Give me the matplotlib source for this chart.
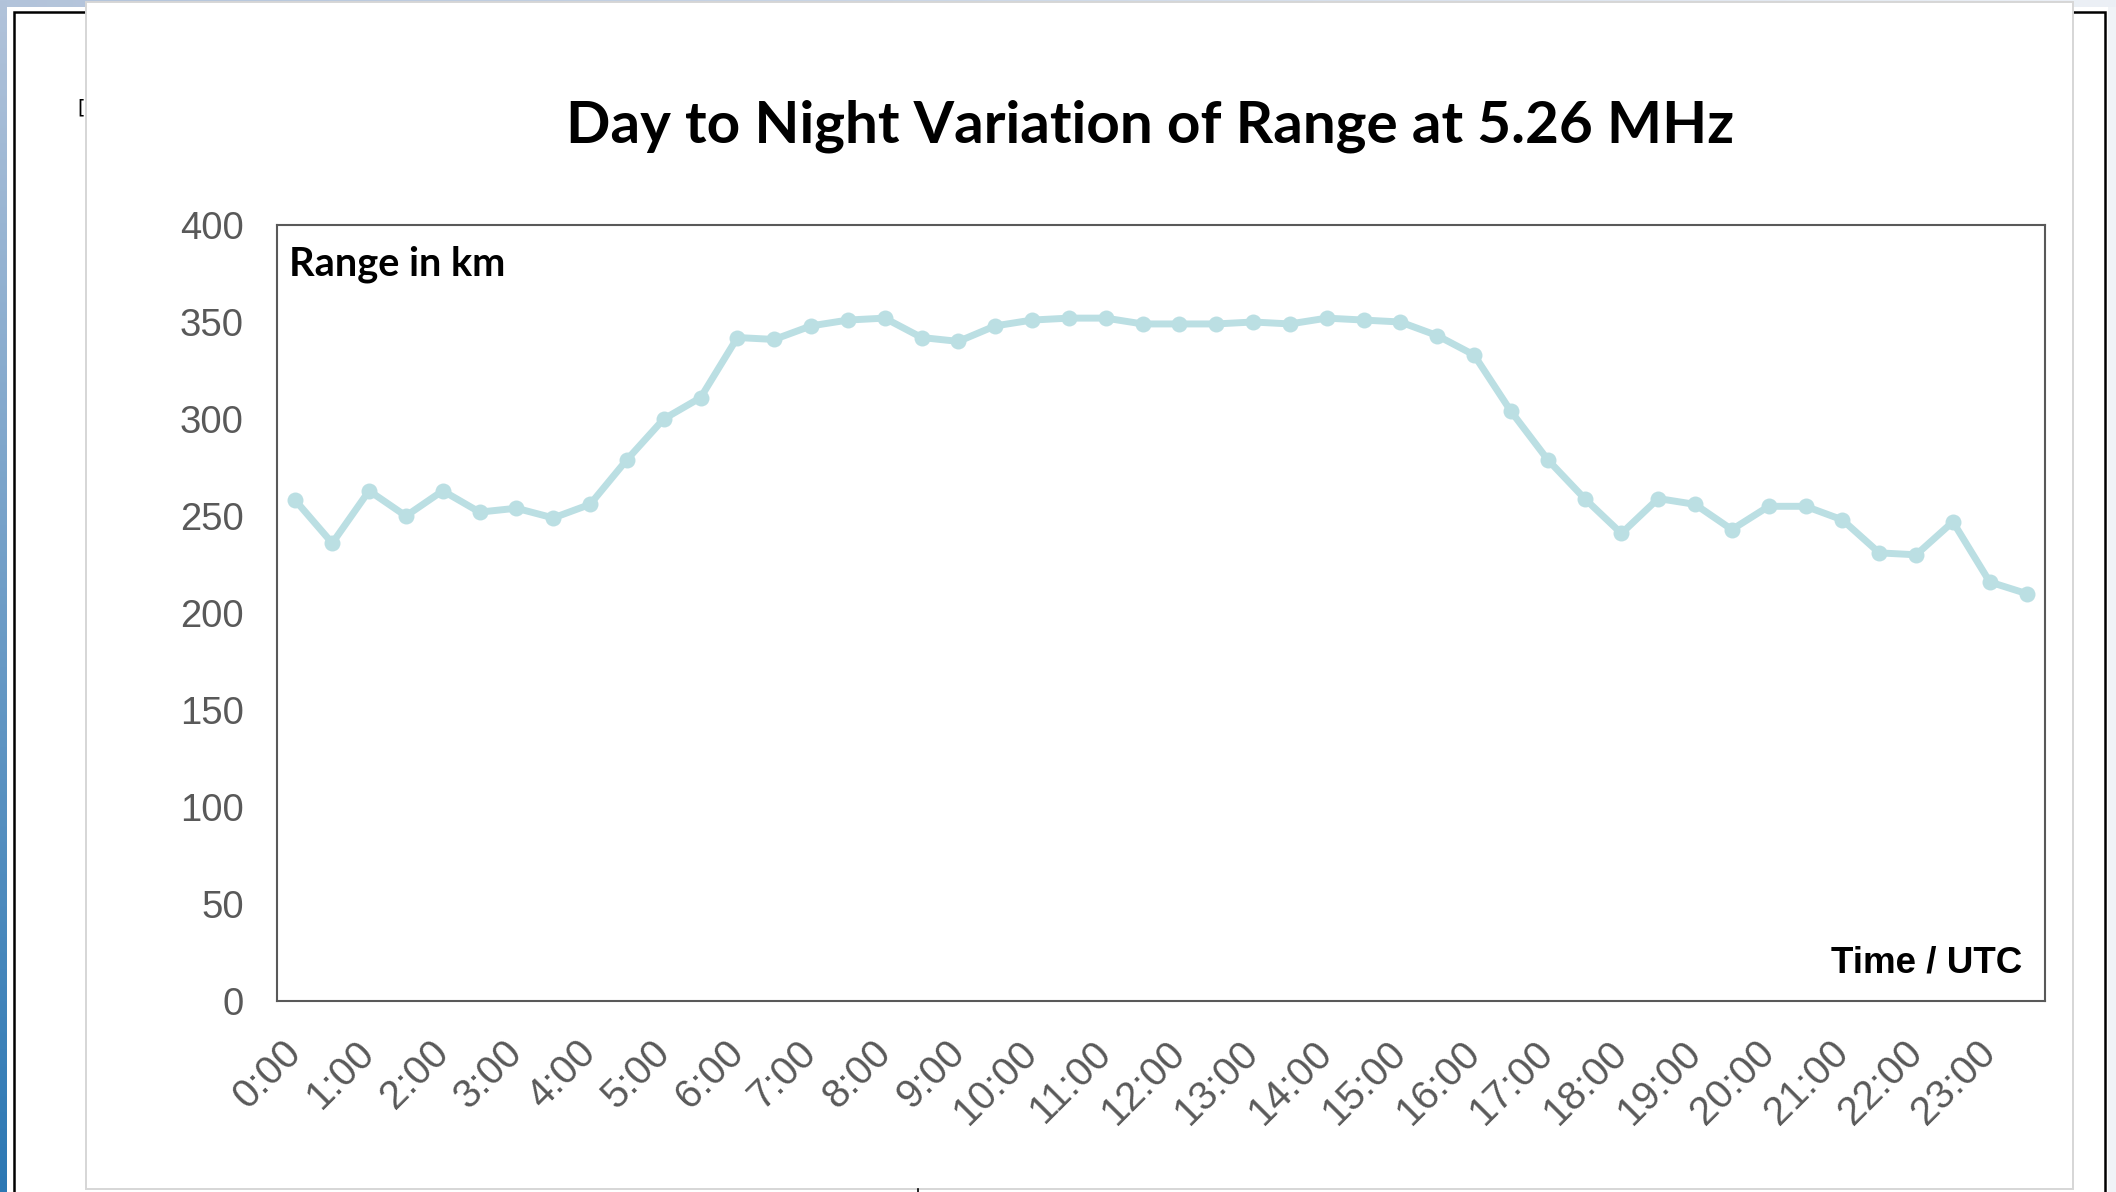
import numpy as np
import matplotlib.pyplot as plt
from matplotlib.patches import Rectangle
from matplotlib.lines import Line2D

# half-hourly range readings, 0:00 to 23:30 UTC
range_km = [258, 236, 263, 250, 263, 252, 254, 249, 256, 279,
            300, 311, 342, 341, 348, 351, 352, 342, 340, 348,
            351, 352, 352, 349, 349, 349, 350, 349, 352, 351,
            350, 343, 333, 304, 279, 259, 241, 259, 256, 243,
            255, 255, 248, 231, 230, 247, 216, 210]
hour_labels = ["0:00", "1:00", "2:00", "3:00", "4:00", "5:00", "6:00", "7:00",
               "8:00", "9:00", "10:00", "11:00", "12:00", "13:00", "14:00",
               "15:00", "16:00", "17:00", "18:00", "19:00", "20:00", "21:00",
               "22:00", "23:00"]
y_ticks = [0, 50, 100, 150, 200, 250, 300, 350, 400]

W, H = 2116, 1192
fig = plt.figure(figsize=(W / 100, H / 100), dpi=100)


def box(x0, y0, x1, y1, **kw):
    # rectangle given in pixel coords measured from the top-left corner
    r = Rectangle((x0 / W, 1 - y1 / H), (x1 - x0) / W, (y1 - y0) / H,
                  transform=fig.transFigure, **kw)
    fig.add_artist(r)
    return r


# window backdrop behind the page
bg = np.empty((H, W, 3))
bg[:] = np.array([240, 243, 247]) / 255
t = np.linspace(0, 1, W)[None, :, None]
bg[:7] = (np.array([178, 195, 218]) * (1 - t) + np.array([236, 240, 246]) * t) / 255
s = np.linspace(0, 1, H)[:, None, None]
bg[:, :7] = (np.array([178, 195, 218]) * (1 - s) + np.array([44, 120, 180]) * s) / 255
fig.figimage(bg, xo=0, yo=0, origin='upper', zorder=-10)

box(7, 7, 2108, H + 5, facecolor='white', edgecolor='none', zorder=-9)
box(14, 12, 2105, H + 5, facecolor='none', edgecolor='black', lw=1.8, zorder=-8)
fig.text(77 / W, 1 - 108 / H, "[", fontsize=14, color='black', va='center',
         ha='left', zorder=-7)
box(86, 2, 2073, 1189, facecolor='white', edgecolor='#d6d6d6', lw=1.4, zorder=-6)
fig.add_artist(Line2D([918 / W, 918 / W], [0, 3 / H], transform=fig.transFigure,
                      color='black', lw=1.2, zorder=-5))

ax = fig.add_axes([277 / W, 1 - 1001 / H, (2045 - 277) / W, (1001 - 225) / H])
ax.set_facecolor('white')

x = np.arange(len(range_km))
ax.plot(x, range_km, color='#bbdfe3', lw=5, marker='o', markersize=11.5,
        markeredgewidth=0, solid_capstyle='round', solid_joinstyle='round')

ax.set_xlim(-0.5, len(range_km) - 0.5)
ax.set_ylim(0, 400)
ax.set_yticks(y_ticks)
ax.set_xticks(x[::2])
ax.set_xticklabels(hour_labels, rotation=45, ha='right', va='center',
                   rotation_mode='anchor', family='Liberation Sans')
for lab in ax.get_yticklabels():
    lab.set_family('Liberation Sans')
ax.tick_params(axis='both', length=0, colors='#595959')
ax.tick_params(axis='y', pad=24, labelsize=27.5)
ax.tick_params(axis='x', pad=33, labelsize=29)
for sp in ax.spines.values():
    sp.set_color('#595959')
    sp.set_linewidth(1.5)

ax.text(0.007, 0.95, "Range in km", transform=ax.transAxes, family='Lato',
        weight='bold', fontsize=28.6, ha='left', va='center')
ax.text(0.987, 0.049, "Time / UTC", transform=ax.transAxes,
        family='Liberation Sans', weight='bold', fontsize=26.5,
        ha='right', va='center')

fig.text(1150 / W, 1 - 126 / H, "Day to Night Variation of Range at 5.26 MHz",
         family='Lato', weight='bold', fontsize=42, ha='center', va='center')

fig.savefig("out.png", dpi=100)
